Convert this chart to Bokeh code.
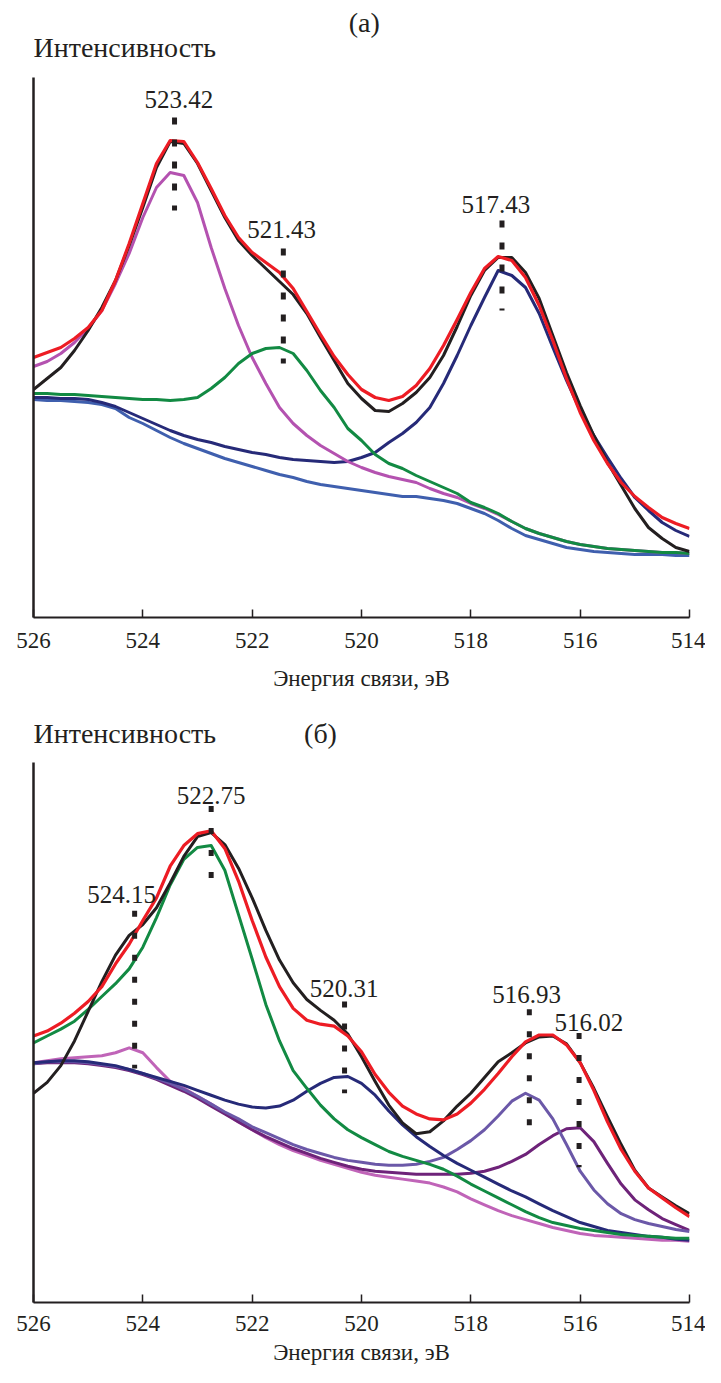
from bokeh.plotting import figure
from bokeh.models import Range1d, FixedTicker
from bokeh.layouts import column
from bokeh.embed import file_html
from bokeh.resources import INLINE
from bokeh.core.properties import value

FONT = "Liberation Serif"
INK = "#231f20"

# ---------------- data ----------------
energy = [526.0, 525.75, 525.5, 525.25, 525.0, 524.75, 524.5, 524.25, 524.0, 523.75,
          523.5, 523.25, 523.0, 522.75, 522.5, 522.25, 522.0, 521.75, 521.5, 521.25,
          521.0, 520.75, 520.5, 520.25, 520.0, 519.75, 519.5, 519.25, 519.0, 518.75,
          518.5, 518.25, 518.0, 517.75, 517.5, 517.25, 517.0, 516.75, 516.5, 516.25,
          516.0, 515.75, 515.5, 515.25, 515.0, 514.75, 514.5, 514.25, 514.0]

x_ticks = [526, 524, 522, 520, 518, 516, 514]

# panel (а)
a_exp = [228, 239, 250, 267, 287, 310, 337, 372, 410, 450,
         476, 474, 454, 427, 400, 377, 362, 349, 336, 323,
         304, 280, 257, 234, 219, 207, 206, 214, 225, 240,
         262, 291, 322, 347, 360, 360, 345, 319, 282, 245,
         212, 182, 155, 132, 109, 90, 79, 70, 66]
a_fit = [260, 265, 270, 279, 290, 307, 337, 374, 414, 454,
         477, 476, 455, 429, 402, 380, 365, 355, 345, 329,
         306, 283, 261, 243, 228, 220, 217, 221, 232, 249,
         272, 298, 325, 349, 361, 357, 340, 312, 277, 239,
         205, 177, 154, 135, 121, 110, 100, 94, 89]
a_p1 = [251, 256, 264, 275, 289, 307, 334, 364, 400, 430,
        445, 442, 415, 370, 329, 292, 260, 234, 210, 194,
        182, 172, 164, 156, 150, 145, 141, 138, 135, 129,
        124, 120, 114, 109, 103, 96, 89, 84, 80, 76,
        73, 71, 69, 68, 67, 66, 65, 65, 64]
a_p2 = [224, 224, 223, 223, 222, 221, 220, 219, 218, 218,
        217, 218, 220, 229, 240, 254, 264, 269, 270, 264,
        247, 227, 210, 189, 177, 163, 154, 149, 142, 136,
        130, 124, 115, 110, 104, 96, 89, 84, 80, 76,
        73, 71, 69, 68, 67, 66, 65, 65, 64]
a_p3 = [220, 220, 219, 219, 218, 215, 211, 205, 199, 193,
        187, 182, 178, 175, 171, 168, 165, 163, 160, 158,
        157, 156, 155, 156, 160, 165, 175, 184, 195, 210,
        234, 262, 292, 320, 347, 342, 330, 304, 270, 237,
        207, 182, 160, 139, 120, 107, 95, 87, 81]
a_bg = [218, 217, 217, 216, 215, 213, 209, 200, 194, 187,
        180, 174, 169, 164, 159, 155, 151, 147, 143, 140,
        136, 133, 131, 129, 127, 125, 123, 121, 121, 119,
        117, 114, 109, 104, 97, 89, 82, 78, 74, 70,
        68, 66, 65, 64, 63, 63, 63, 62, 62]

a_peaks = [523.42, 521.43, 517.43]
a_peak_labels = ["523.42", "521.43", "517.43"]
a_mark_top = [500, 369, 397]
a_mark_bottom = [407, 254, 307]
a_label_x = [523.34, 521.46, 517.54]
a_label_y = [518, 388, 413]

# panel (б)
b_exp = [212, 223, 240, 265, 295, 325, 352, 372, 383, 400,
         425, 452, 472, 476, 464, 440, 410, 377, 347, 324,
         307, 296, 286, 272, 249, 224, 200, 182, 171, 173,
         184, 199, 212, 228, 244, 253, 263, 269, 270, 262,
         243, 217, 188, 160, 134, 116, 107, 98, 90]
b_fit = [270, 275, 283, 293, 305, 320, 343, 363, 387, 410,
         442, 463, 475, 478, 460, 427, 387, 350, 320, 298,
         286, 282, 280, 270, 254, 231, 213, 199, 191, 186,
         185, 191, 202, 216, 232, 249, 264, 271, 271, 261,
         243, 215, 183, 155, 133, 116, 106, 96, 87]
b_p1 = [243, 245, 247, 248, 249, 250, 253, 258, 253, 238,
        224, 217, 209, 201, 192, 183, 175, 167, 160, 154,
        149, 144, 140, 136, 132, 129, 127, 125, 123, 121,
        117, 112, 105, 99, 93, 88, 84, 80, 76, 73,
        70, 68, 67, 66, 65, 64, 63, 63, 62]
b_p2 = [263, 270, 277, 285, 297, 310, 323, 338, 360, 390,
        423, 449, 461, 463, 438, 393, 348, 302, 265, 235,
        217, 200, 186, 175, 167, 160, 153, 148, 144, 140,
        135, 128, 120, 113, 106, 99, 92, 86, 81, 78,
        75, 73, 71, 69, 68, 67, 66, 65, 65]
b_p3 = [243, 244, 245, 245, 244, 242, 240, 236, 232, 228,
        224, 220, 215, 210, 205, 201, 198, 197, 199, 205,
        214, 222, 228, 229, 222, 210, 194, 180, 168, 158,
        149, 141, 134, 127, 120, 113, 107, 100, 93, 87,
        81, 77, 73, 71, 69, 67, 66, 64, 63]
b_p4 = [242, 244, 244, 244, 243, 241, 239, 236, 232, 227,
        222, 216, 209, 201, 193, 186, 178, 172, 166, 160,
        155, 151, 147, 144, 142, 140, 139, 139, 140, 143,
        147, 155, 164, 175, 189, 204, 212, 205, 186, 160,
        133, 114, 100, 90, 84, 80, 77, 74, 72]
b_p5 = [242, 243, 243, 243, 242, 240, 238, 235, 231, 226,
        220, 214, 207, 199, 191, 183, 175, 168, 162, 156,
        151, 146, 142, 138, 135, 133, 132, 131, 130, 130,
        130, 130, 131, 133, 137, 143, 150, 160, 169, 176,
        177, 163, 141, 120, 104, 94, 85, 79, 73]

b_peaks = [524.15, 522.75, 520.31, 516.93, 516.02]
b_peak_labels = ["524.15", "522.75", "520.31", "516.93", "516.02"]
b_mark_top = [397, 503, 305, 297, 273]
b_mark_bottom = [237, 430, 212, 178, 137]
b_label_x = [524.39, 522.75, 520.32, 516.98, 515.84]
b_label_y = [413, 514, 318, 312, 284]

x_title = "Энергия связи, эВ"
y_title = "Интенсивность"


def make_panel(height, frame_h, ymax, axis_top, lab_standoff, title_standoff):
    p = figure(width=705, height=height, x_range=Range1d(526, 514),
               y_range=Range1d(0, ymax), output_backend="svg", title=None,
               toolbar_location=None, min_border_left=33, min_border_right=16,
               min_border_top=0, min_border_bottom=height - frame_h)
    p.outline_line_color = None
    p.grid.visible = False
    p.background_fill_color = "white"
    p.border_fill_color = "white"

    xa = p.xaxis[0]
    xa.ticker = FixedTicker(ticks=x_ticks)
    xa.axis_line_color = INK
    xa.axis_line_width = 2
    xa.major_tick_line_color = INK
    xa.major_tick_line_width = 1.5
    xa.major_tick_in = 8
    xa.major_tick_out = 0
    xa.minor_tick_line_color = None
    xa.major_label_text_font = FONT
    xa.major_label_text_font_size = "23px"
    xa.major_label_text_color = INK
    xa.major_label_standoff = lab_standoff
    xa.axis_label = x_title
    xa.axis_label_text_font = FONT
    xa.axis_label_text_font_size = "23px"
    xa.axis_label_text_font_style = "normal"
    xa.axis_label_text_color = INK
    xa.axis_label_standoff = title_standoff

    ya = p.yaxis[0]
    ya.ticker = FixedTicker(ticks=[])
    ya.bounds = (0, axis_top)
    ya.axis_line_color = INK
    ya.axis_line_width = 2.5
    ya.major_tick_line_color = None
    ya.minor_tick_line_color = None
    ya.major_label_text_font_size = "0px"
    return p


def header(p, texts, xs, ys, aligns):
    for t, x, y, al in zip(texts, xs, ys, aligns):
        p.text(x=[x], y=[y], text=[t], text_font=value(FONT), text_font_size="28px",
               text_color=INK, text_align=al, text_baseline="middle")


def curve(p, ys, color, width=3):
    p.line(energy, ys, line_color=color, line_width=width, line_join="round")


# ---------------- panel (а) ----------------
pa = make_panel(694, 617, 617, 540, 15, 15)
curve(pa, a_bg, "#3f5fae")
curve(pa, a_p3, "#262a78")
curve(pa, a_p1, "#b452b0")
curve(pa, a_p2, "#128a43")
curve(pa, a_exp, INK)
curve(pa, a_fit, "#ed1c24", 3.2)
pa.segment(x0=a_peaks, y0=a_mark_top, x1=a_peaks, y1=a_mark_bottom,
           line_color=INK, line_width=5, line_dash="7 15")
pa.text(x=a_label_x, y=a_label_y, text=a_peak_labels, text_font=value(FONT),
        text_font_size="25px", text_color=INK, text_align="center",
        text_baseline="middle")
header(pa, [y_title, "(а)"], [526.0, 519.95], [570, 595], ["left", "center"])

# ---------------- panel (б) ----------------
pb = make_panel(673, 608, 616, 547, 13, 6)
curve(pb, b_p1, "#c064b8")
curve(pb, b_p5, "#6e2379")
curve(pb, b_p4, "#6b58a8")
curve(pb, b_p3, "#262a78")
curve(pb, b_p2, "#128a43")
curve(pb, b_exp, INK)
curve(pb, b_fit, "#ed1c24", 3.2)
pb.segment(x0=b_peaks, y0=b_mark_top, x1=b_peaks, y1=b_mark_bottom,
           line_color=INK, line_width=5, line_dash="6 16")
pb.text(x=b_label_x, y=b_label_y, text=b_peak_labels, text_font=value(FONT),
        text_font_size="25px", text_color=INK, text_align="center",
        text_baseline="middle")
header(pb, [y_title, "(б)"], [526.0, 520.75], [576, 576], ["left", "center"])

layout = column(pa, pb, spacing=0)
open("out.html", "w").write(file_html(layout, INLINE))
